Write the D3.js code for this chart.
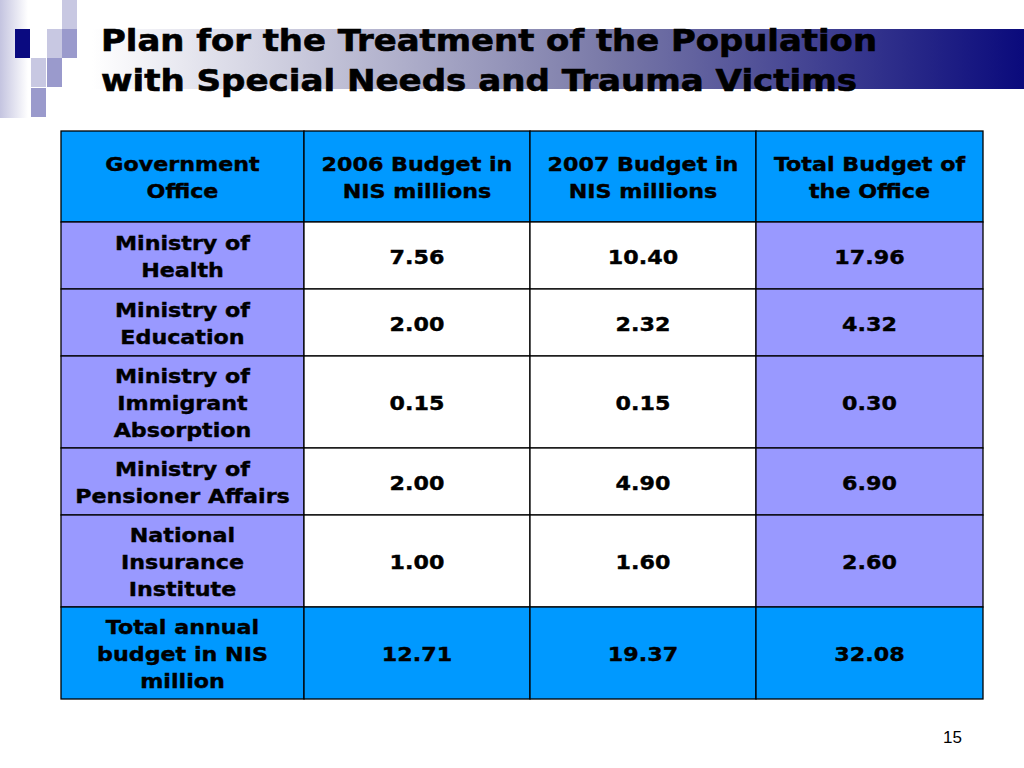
<!DOCTYPE html>
<html><head><meta charset="utf-8">
<script src="https://cdn.jsdelivr.net/npm/d3@7"></script>
<style>body{margin:0;background:#fff;}svg{display:block;}</style>
</head><body><div id="c"></div>
<script>
const titleLines = ["Plan for the Treatment of the Population", "with Special Needs and Trauma Victims"];
const headerLines = [["Government","Office"],["2006 Budget in","NIS millions"],["2007 Budget in","NIS millions"],["Total Budget of","the Office"]];
const offices = [["Ministry of","Health"],["Ministry of","Education"],["Ministry of","Immigrant","Absorption"],["Ministry of","Pensioner Affairs"],["National","Insurance","Institute"],["Total annual","budget in NIS","million"]];
const budget2006 = [7.56, 2.00, 0.15, 2.00, 1.00, 12.71];
const budget2007 = [10.40, 2.32, 0.15, 4.90, 1.60, 19.37];
const budgetTotal = [17.96, 4.32, 0.30, 6.90, 2.60, 32.08];
const pageNumber = "15";

const W = 1024, H = 768;
const svg = d3.select("#c").append("svg").attr("width", W).attr("height", H);
const defs = svg.append("defs");
const lg = defs.append("linearGradient").attr("id","tg").attr("x1","0").attr("x2","1").attr("y1","0").attr("y2","0");
lg.append("stop").attr("offset","0").attr("stop-color","#ffffff");
lg.append("stop").attr("offset","0.55").attr("stop-color","#7a7aa8");
lg.append("stop").attr("offset","1").attr("stop-color","#0a0a7c");
const lg2 = defs.append("linearGradient").attr("id","lg").attr("x1","0").attr("x2","1").attr("y1","0").attr("y2","0");
lg2.append("stop").attr("offset","0").attr("stop-color","#c4c4e0");
lg2.append("stop").attr("offset","1").attr("stop-color","#ffffff");

// decoration
svg.append("rect").attr("x",0).attr("y",0).attr("width",28).attr("height",118).attr("fill","url(#lg)");
const deco = [[62,0,"#c8c8e2"],[15,29,"#0a0a80"],[47,29,"#c8c8e2"],[62,29,"#9a9acc"],[31,58,"#c8c8e2"],[47,58,"#9a9acc"],[31,88,"#9a9acc"]];
svg.selectAll("rect.d").data(deco).join("rect").attr("class","d")
  .attr("x",d=>d[0]).attr("y",d=>d[1]).attr("width",15).attr("height",29).attr("fill",d=>d[2]);

// title bar
svg.append("rect").attr("x",92).attr("y",29).attr("width",W-92).attr("height",60).attr("fill","url(#tg)");
const titleWidths = [776, 756];
svg.selectAll("text.t").data(titleLines).join("text").attr("class","t")
  .attr("x",101).attr("y",(d,i)=>51+i*40)
  .attr("font-family","DejaVu Sans").attr("font-weight","bold").attr("font-size",30)
  .attr("fill","#000").attr("stroke","#000").attr("stroke-width",0.6)
  .attr("textLength",(d,i)=>titleWidths[i]).attr("lengthAdjust","spacingAndGlyphs")
  .text(d=>d);

// table
const colEdges = [61,304,530,756,983];
const rowEdges = [131,222,289,356,448,515,607,699];
const rows = [{lines: headerLines, hdr:true}];
offices.forEach((o,i)=>{
  rows.push({lines:[o,[budget2006[i].toFixed(2)],[budget2007[i].toFixed(2)],[budgetTotal[i].toFixed(2)]], total: i===offices.length-1});
});
const lh = 27;
rows.forEach((r,ri)=>{
  const y0 = rowEdges[ri], y1 = rowEdges[ri+1];
  r.lines.forEach((lines,ci)=>{
    const x0 = colEdges[ci], x1 = colEdges[ci+1];
    let fill = "#ffffff";
    if (r.hdr || r.total) fill = "#0099ff";
    else if (ci===0 || ci===3) fill = "#9999ff";
    svg.append("rect").attr("x",x0).attr("y",y0).attr("width",x1-x0).attr("height",y1-y0)
      .attr("fill",fill).attr("stroke","#000").attr("stroke-width",1.3);
    const cy = (y0+y1)/2 + 1;
    const n = lines.length;
    svg.append("g").selectAll("text").data(lines).join("text")
      .attr("x",(x0+x1)/2).attr("y",(d,i)=>cy + (i-(n-1)/2)*lh)
      .attr("dy","0.35em").attr("text-anchor","middle")
      .attr("font-family","DejaVu Sans").attr("font-weight","bold").attr("font-size",20)
      .attr("fill","#000").attr("stroke","#000").attr("stroke-width",0.4)
      .text(d=>d)
      .each(function(){ const w = this.getComputedTextLength(); d3.select(this).attr("textLength", w*1.11).attr("lengthAdjust","spacingAndGlyphs"); });
  });
});

svg.append("text").attr("x",962).attr("y",743).attr("text-anchor","end")
  .attr("font-family","Liberation Sans").attr("font-size",17).attr("fill","#000").text(pageNumber);
</script></body></html>
